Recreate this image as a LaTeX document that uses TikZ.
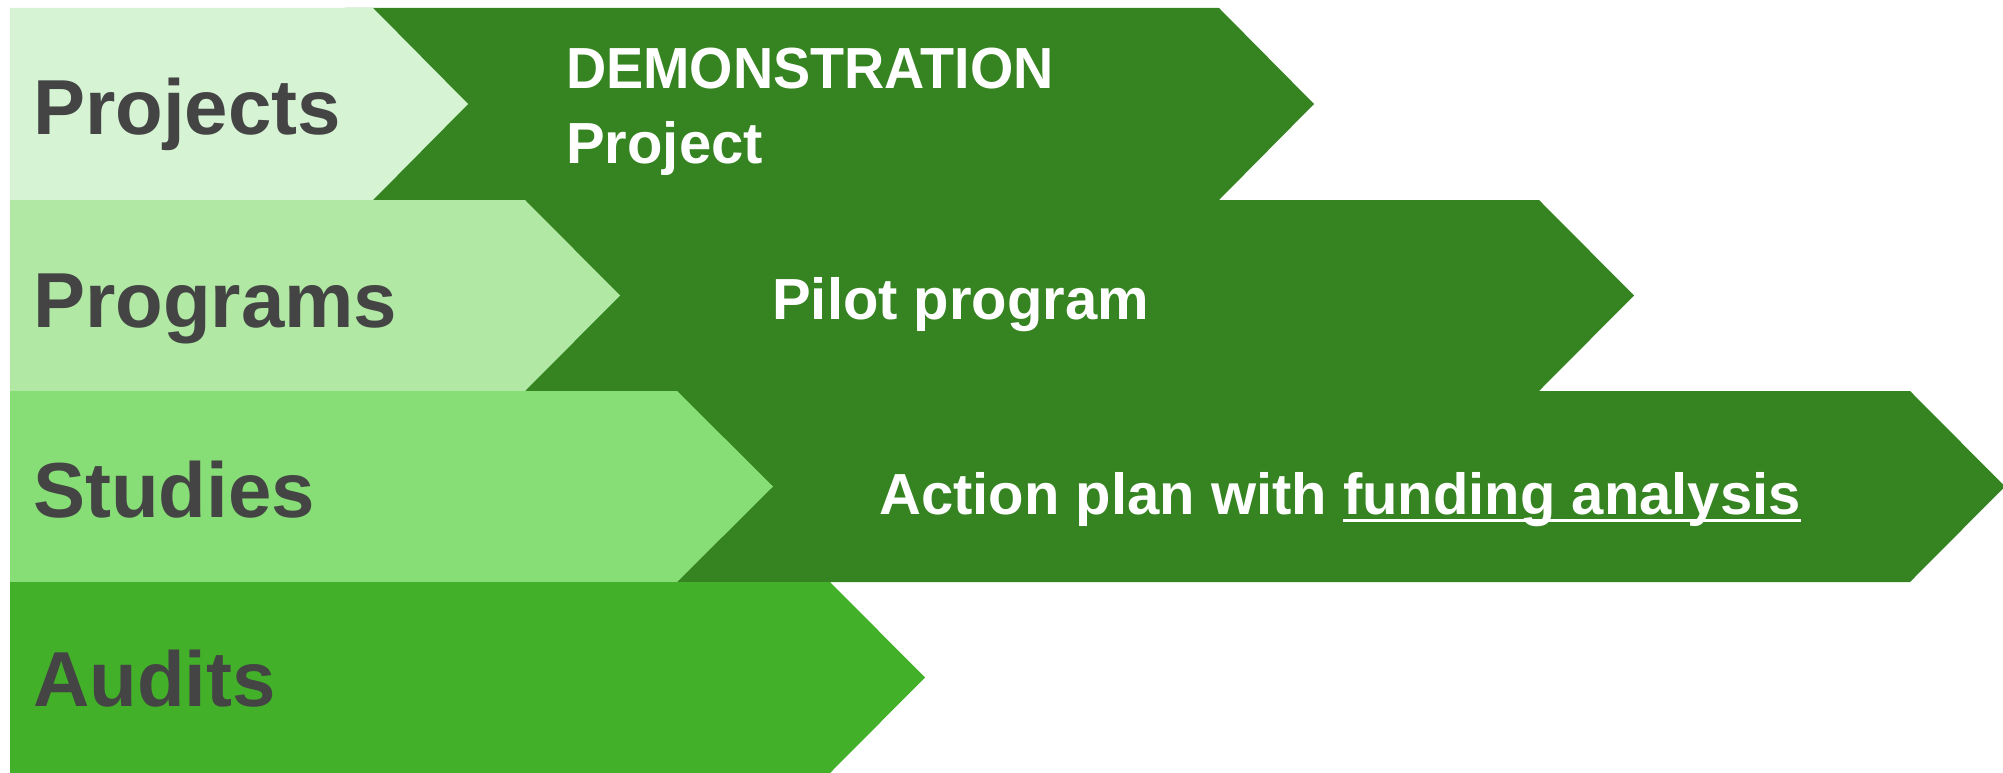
\documentclass[tikz,border=0pt]{standalone}
\usepackage{fontspec}
\setmainfont{Liberation Sans}
\definecolor{ltone}{HTML}{D6F3D4}
\definecolor{lttwo}{HTML}{B0E8A4}
\definecolor{ltthree}{HTML}{88DE76}
\definecolor{ltfour}{HTML}{43B02A}
\definecolor{dk}{HTML}{358421}
\definecolor{txtgray}{HTML}{444444}
\newcommand\myul[1]{\setbox0\hbox{#1}\rlap{\rule[-8pt]{\wd0}{3pt}}\box0}
\tikzset{
  lbl/.style={anchor=base west, inner sep=0pt, text=txtgray, font=\fontsize{78}{90}\selectfont\bfseries},
  wtxt/.style={anchor=base west, inner sep=0pt, text=white, font=\fontsize{58}{75}\selectfont\bfseries},
}
\begin{document}
\begin{tikzpicture}[x=1pt,y=-1pt]
\useasboundingbox (0,0) rectangle (2003,773);
% dark arrows
\fill[dk] (345,8) -- (1219,8) -- (1314,104) -- (1219,200) -- (345,200) -- cycle;
\fill[dk] (345,200) -- (1539,200) -- (1634,295.5) -- (1539,391) -- (345,391) -- cycle;
\fill[dk] (345,391) -- (1910,391) -- (2005,486.5) -- (1910,582) -- (345,582) -- cycle;
% light chevrons
\fill[ltone] (10,8) -- (373,8) -- (468,104) -- (373,200) -- (10,200) -- cycle;
\fill[lttwo] (10,200) -- (525,200) -- (620,295.5) -- (525,391) -- (10,391) -- cycle;
\fill[ltthree] (10,391) -- (677,391) -- (773,486.5) -- (677,582) -- (10,582) -- cycle;
\fill[ltfour] (10,582) -- (830,582) -- (925,677.5) -- (830,773) -- (10,773) -- cycle;
% labels
\node[lbl] (projects) at (33,135) {Projects};
\node[lbl] (programs) at (33,327) {Programs};
\node[lbl] (studies) at (33,517) {Studies};
\node[lbl] (audits) at (33,706) {Audits};
% white texts
\node[wtxt] (demo) at (566,89) {\scalebox{0.96}[1]{DEMONSTRATION}};
\node[wtxt] (proj) at (566,164) {Project};
\node[wtxt] (pilot) at (772,319) {Pilot program};
\node[wtxt] (action) at (879,514) {Action plan with \myul{funding analysis}};
\end{tikzpicture}
\end{document}
